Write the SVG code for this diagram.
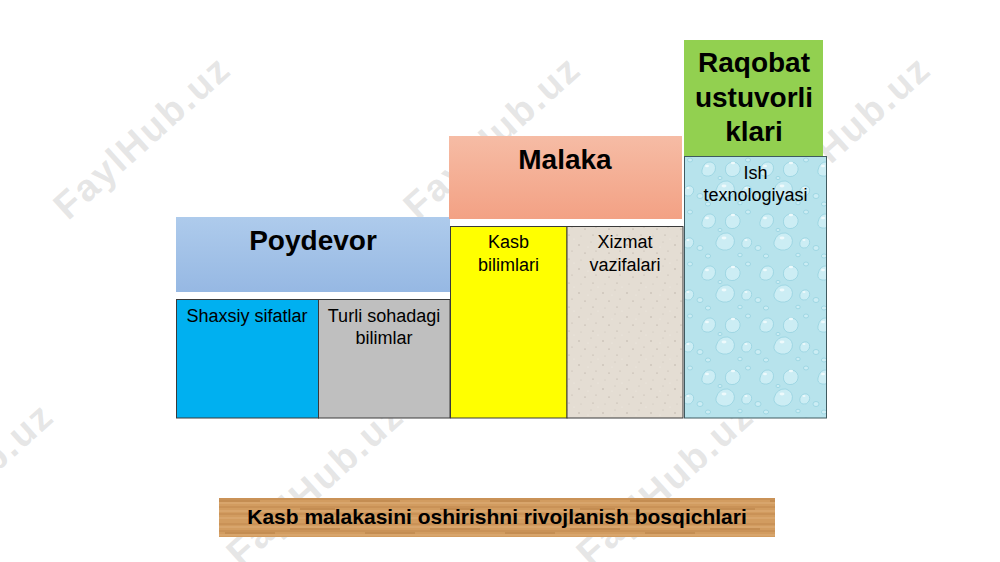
<svg xmlns="http://www.w3.org/2000/svg" width="1000" height="562" viewBox="0 0 1000 562">
  <style>
    .title { font-family: "Liberation Sans", Arial, sans-serif; font-weight: bold; font-size: 28px; fill: #000; text-anchor: middle; }
    .label { font-family: "Liberation Sans", Arial, sans-serif; font-size: 18px; fill: #000; text-anchor: middle; }
    .cap { font-family: "Liberation Sans", Arial, sans-serif; font-weight: bold; font-size: 21px; fill: #000; text-anchor: middle; }
    .cell { stroke: #3a3a3a; stroke-width: 1; }
    .drop { fill: #ccedf4; stroke: #96d2df; stroke-width: 0.8; }
    .hl { fill: #eefafc; }
    .wm { font-family: "Liberation Sans", Arial, sans-serif; font-weight: bold; font-size: 38px; fill: #c8c8c8; fill-opacity: 0.45; text-anchor: middle; letter-spacing: 2px; }
  </style>
  <defs>
    <linearGradient id="gBlue" x1="0" y1="0" x2="0" y2="1">
      <stop offset="0" stop-color="#aecbec"/>
      <stop offset="1" stop-color="#96b8e3"/>
    </linearGradient>
    <linearGradient id="gSalmon" x1="0" y1="0" x2="0" y2="1">
      <stop offset="0" stop-color="#f6bca5"/>
      <stop offset="1" stop-color="#f3a184"/>
    </linearGradient>
    <pattern id="pDrops" width="58" height="52" patternUnits="userSpaceOnUse">
      <rect width="58" height="52" fill="#b7e3ec"/>
      <path class="drop" d="M6 14 q2 -9 9 -8 q6 2 4 9 q-3 6 -9 5 q-5 -1 -4 -6z"/>
      <path class="drop" d="M30 10 q4 -6 11 -3 q5 4 2 10 q-4 5 -10 3 q-5 -3 -3 -10z"/>
      <path class="drop" d="M20 34 q3 -10 12 -9 q8 3 6 11 q-3 7 -11 6 q-8 -2 -7 -8z"/>
      <path class="drop" d="M46 34 q2 -5 7 -4 q4 2 2 7 q-2 4 -6 3 q-4 -1 -3 -6z"/>
      <ellipse class="drop" cx="4" cy="40" rx="3" ry="2.5"/>
      <ellipse class="drop" cx="52" cy="4" rx="2.5" ry="2"/>
      <ellipse class="drop" cx="24" cy="22" rx="2" ry="1.6"/>
      <ellipse class="drop" cx="44" cy="47" rx="2.2" ry="1.8"/>
      <ellipse class="drop" cx="12" cy="48" rx="2.6" ry="2"/>
      <ellipse class="hl" cx="11" cy="10" rx="2" ry="1.2"/>
      <ellipse class="hl" cx="37" cy="7" rx="2.2" ry="1.2"/>
      <ellipse class="hl" cx="28" cy="30" rx="2.5" ry="1.4"/>
      <ellipse class="hl" cx="50" cy="32" rx="1.5" ry="0.9"/>
    </pattern>
    <pattern id="pGranite" width="24" height="24" patternUnits="userSpaceOnUse">
      <rect width="24" height="24" fill="#e4ddd3"/>
      <circle cx="3" cy="5" r="0.7" fill="#b5aca1"/>
      <circle cx="15" cy="2" r="0.5" fill="#c2b9ae"/>
      <circle cx="9" cy="13" r="0.6" fill="#a99f94"/>
      <circle cx="20" cy="11" r="0.6" fill="#bdb3a8"/>
      <circle cx="5" cy="20" r="0.5" fill="#c8bfb4"/>
      <circle cx="17" cy="19" r="0.6" fill="#b0a79c"/>
      <circle cx="12" cy="7" r="0.5" fill="#f4efe9"/>
      <circle cx="22" cy="23" r="0.5" fill="#f4efe9"/>
    </pattern>
    <pattern id="pWood" width="140" height="40" patternUnits="userSpaceOnUse">
      <rect width="140" height="40" fill="#d29c60"/>
      <path d="M0 4 H140 M0 11 H140 M0 19 H140 M0 27 H140 M0 34 H140" stroke="#bd8347" stroke-width="0.8"/>
      <path d="M0 7 H140 M0 15 H140 M0 23 H140 M0 31 H140 M0 38 H140" stroke="#dfae77" stroke-width="1"/>
      <path d="M10 9 H60 M70 21 H120 M20 29 H55 M85 13 H135" stroke="#a9703a" stroke-width="0.7"/>
    </pattern>
  </defs>

  <g id="watermarks">
    <text class="wm" transform="translate(142 137) rotate(-42)" y="13">FaylHub.uz</text>
    <text class="wm" transform="translate(492 137) rotate(-42)" y="13">FaylHub.uz</text>
    <text class="wm" transform="translate(842 137) rotate(-42)" y="13">FaylHub.uz</text>
    <text class="wm" transform="translate(-35 484) rotate(-42)" y="13">FaylHub.uz</text>
    <text class="wm" transform="translate(315 484) rotate(-42)" y="13">FaylHub.uz</text>
    <text class="wm" transform="translate(665 484) rotate(-42)" y="13">FaylHub.uz</text>
  </g>

  <g id="connectors"/>

  <g id="poydevor">
    <rect x="176" y="217" width="274" height="75" fill="url(#gBlue)"/>
    <text class="title" x="313" y="250">Poydevor</text>
  </g>
  <g id="shaxsiy-sifatlar">
    <rect class="cell" x="176.5" y="299.5" width="142" height="118.5" fill="#00b0f0"/>
    <text class="label" x="247" y="322">Shaxsiy sifatlar</text>
  </g>
  <g id="turli-sohadagi-bilimlar">
    <rect class="cell" x="318.5" y="299.5" width="131.5" height="118.5" fill="#bfbfbf"/>
    <text class="label" x="384" y="322">Turli sohadagi</text>
    <text class="label" x="384" y="344">bilimlar</text>
  </g>

  <g id="malaka">
    <rect x="449" y="136" width="233" height="83" fill="url(#gSalmon)"/>
    <text class="title" x="565" y="169">Malaka</text>
  </g>
  <g id="kasb-bilimlari">
    <rect class="cell" x="450.5" y="226.5" width="116.5" height="191.5" fill="#ffff00"/>
    <text class="label" x="508.5" y="248">Kasb</text>
    <text class="label" x="508.5" y="271">bilimlari</text>
  </g>
  <g id="xizmat-vazifalari">
    <rect class="cell" x="567" y="226.5" width="116" height="191.5" fill="url(#pGranite)"/>
    <text class="label" x="625" y="248">Xizmat</text>
    <text class="label" x="625" y="271">vazifalari</text>
  </g>

  <g id="raqobat-ustuvorliklari">
    <rect x="684" y="40" width="139" height="117" fill="#92d050"/>
    <text class="title" x="754" y="72">Raqobat</text>
    <text class="title" x="754" y="107">ustuvorli</text>
    <text class="title" x="754" y="141">klari</text>
  </g>
  <g id="ish-texnologiyasi">
    <rect x="684.5" y="156.5" width="142" height="261.5" fill="url(#pDrops)" stroke="#3f5a60" stroke-width="1"/>
    <text class="label" x="755.5" y="179">Ish</text>
    <text class="label" x="755.5" y="201">texnologiyasi</text>
  </g>

  <g id="kasb-malakasini-bosqichlari">
    <rect x="219" y="498" width="556" height="39" fill="url(#pWood)"/>
    <text class="cap" x="497" y="524">Kasb malakasini oshirishni rivojlanish bosqichlari</text>
  </g>
</svg>
